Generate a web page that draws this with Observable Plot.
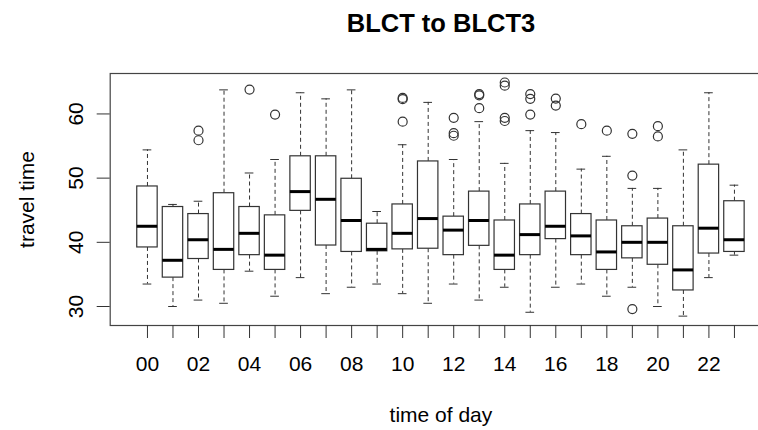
<!DOCTYPE html>
<html>
<head>
<meta charset="utf-8">
<script src="https://cdn.jsdelivr.net/npm/d3@7"></script>
<script src="https://cdn.jsdelivr.net/npm/@observablehq/plot@0.6"></script>
<style>
  html, body { margin: 0; padding: 0; background: white; }
  #wrap { width: 758px; height: 430px; overflow: hidden; }
  #wrap svg { overflow: hidden; }
</style>
</head>
<body>
<div id="wrap"></div>
<script>
// Hour categories (time of day)
const hours = ["00","01","02","03","04","05","06","07","08","09","10","11",
               "12","13","14","15","16","17","18","19","20","21","22","23"];

// Five-number summaries
const lowerWhisker = [33.5, 30.0, 31.0, 30.5, 35.5, 31.6, 34.5, 32.0, 33.0, 33.5, 32.0, 30.5,
                      33.5, 31.0, 33.0, 29.1, 33.0, 33.5, 31.6, 33.0, 30.0, 28.5, 34.5, 38.0];
const q1 =           [39.2, 34.5, 37.4, 35.7, 38.0, 35.7, 44.9, 39.5, 38.5, 38.6, 38.9, 39.0,
                      38.0, 39.45, 35.7, 38.0, 40.5, 38.0, 35.7, 37.5, 36.5, 32.5, 38.25, 38.5];
const median =       [42.5, 37.2, 40.4, 38.9, 41.4, 38.0, 47.9, 46.7, 43.4, 38.9, 41.4, 43.7,
                      41.9, 43.4, 38.0, 41.2, 42.5, 41.0, 38.5, 40.0, 40.0, 35.7, 42.2, 40.4];
const q3 =           [48.7, 45.5, 44.4, 47.65, 45.5, 44.2, 53.4, 53.4, 49.9, 42.9, 45.9, 52.6,
                      44.0, 47.9, 43.4, 45.9, 47.9, 44.4, 43.4, 42.5, 43.7, 42.5, 52.1, 46.4];
const upperWhisker = [54.4, 45.9, 46.4, 63.75, 50.8, 52.9, 63.3, 62.35, 63.75, 44.8, 55.2, 61.8,
                      52.9, 58.8, 52.3, 57.4, 57.1, 51.4, 53.4, 48.4, 48.4, 54.4, 63.3, 48.9];

// Outliers (hour index, value)
const outlierHour  = [2, 2, 4, 5, 10, 10, 10, 12, 12, 12, 13, 13, 13, 14, 14, 14, 14,
                      15, 15, 15, 16, 16, 17, 18, 19, 19, 19, 20, 20];
const outlierValue = [57.4, 55.9, 63.8, 59.9, 62.5, 62.3, 58.8, 59.4, 57.0, 56.6, 63.1, 62.9, 60.9,
                      64.9, 64.4, 59.4, 58.9, 63.1, 62.35, 59.9, 62.4, 61.3, 58.4, 57.4,
                      56.9, 50.4, 29.6, 58.1, 56.5];

// Axis ticks
const yTicks = [30, 40, 50, 60];

const rows = hours.map((h, i) => ({
  i, hour: h,
  lw: lowerWhisker[i], q1: q1[i], med: median[i], q3: q3[i], uw: upperWhisker[i]
}));
const outliers = outlierHour.map((h, k) => ({i: h, v: outlierValue[k]}));

const ink = "#333";
const chart = Plot.plot({
  width: 758,
  height: 430,
  marginLeft: 109.7,
  marginRight: -13.2,
  marginTop: 73,
  marginBottom: 105,
  style: {fontFamily: "'Liberation Sans', Arial, Helvetica, sans-serif", background: "white"},
  x: {type: "linear", domain: [-1.46, 24.46]},
  y: {domain: [27.04, 66.3]},
  marks: [
    Plot.frame({stroke: "#444", strokeWidth: 1.2}),
    Plot.ruleX(rows, {x: "i", y1: "q3", y2: "uw", stroke: ink, strokeDasharray: "4,3"}),
    Plot.ruleX(rows, {x: "i", y1: "q1", y2: "lw", stroke: ink, strokeDasharray: "4,3"}),
    Plot.ruleY(rows, {y: "uw", x1: d => d.i - 0.17, x2: d => d.i + 0.17, stroke: ink}),
    Plot.ruleY(rows, {y: "lw", x1: d => d.i - 0.17, x2: d => d.i + 0.17, stroke: ink}),
    Plot.rect(rows, {x1: d => d.i - 0.4, x2: d => d.i + 0.4, y1: "q1", y2: "q3",
                     fill: "white", stroke: ink, strokeWidth: 1.2}),
    Plot.ruleY(rows, {y: "med", x1: d => d.i - 0.4, x2: d => d.i + 0.4, stroke: "black", strokeWidth: 3}),
    Plot.dot(outliers, {x: "i", y: "v", r: 4.5, stroke: ink, fill: "none", strokeWidth: 1.2}),
    Plot.axisY({ticks: yTicks, tickSize: 13, tickPadding: 14, tickRotate: -90,
                fontSize: 21, label: null, stroke: ink}),
    Plot.axisX({ticks: d3.range(hours.length), tickSize: 13, tickPadding: 18, fontSize: 21,
                tickFormat: i => (i % 2 === 0 ? hours[i] : ""), label: null, stroke: ink}),
    Plot.text(["BLCT to BLCT3"], {text: d => d, frameAnchor: "top", dy: -42, lineAnchor: "bottom",
                fontSize: 25.5, fontWeight: "bold", fill: "black"}),
    Plot.text(["time of day"], {text: d => d, frameAnchor: "bottom", dy: 96, lineAnchor: "bottom",
                fontSize: 21, fill: "black"}),
    Plot.text(["travel time"], {text: d => d, frameAnchor: "left", dx: -76.4, rotate: -90,
                textAnchor: "middle", lineAnchor: "bottom", fontSize: 21, fill: "black"})
  ]
});
document.getElementById("wrap").appendChild(chart);
</script>
</body>
</html>
